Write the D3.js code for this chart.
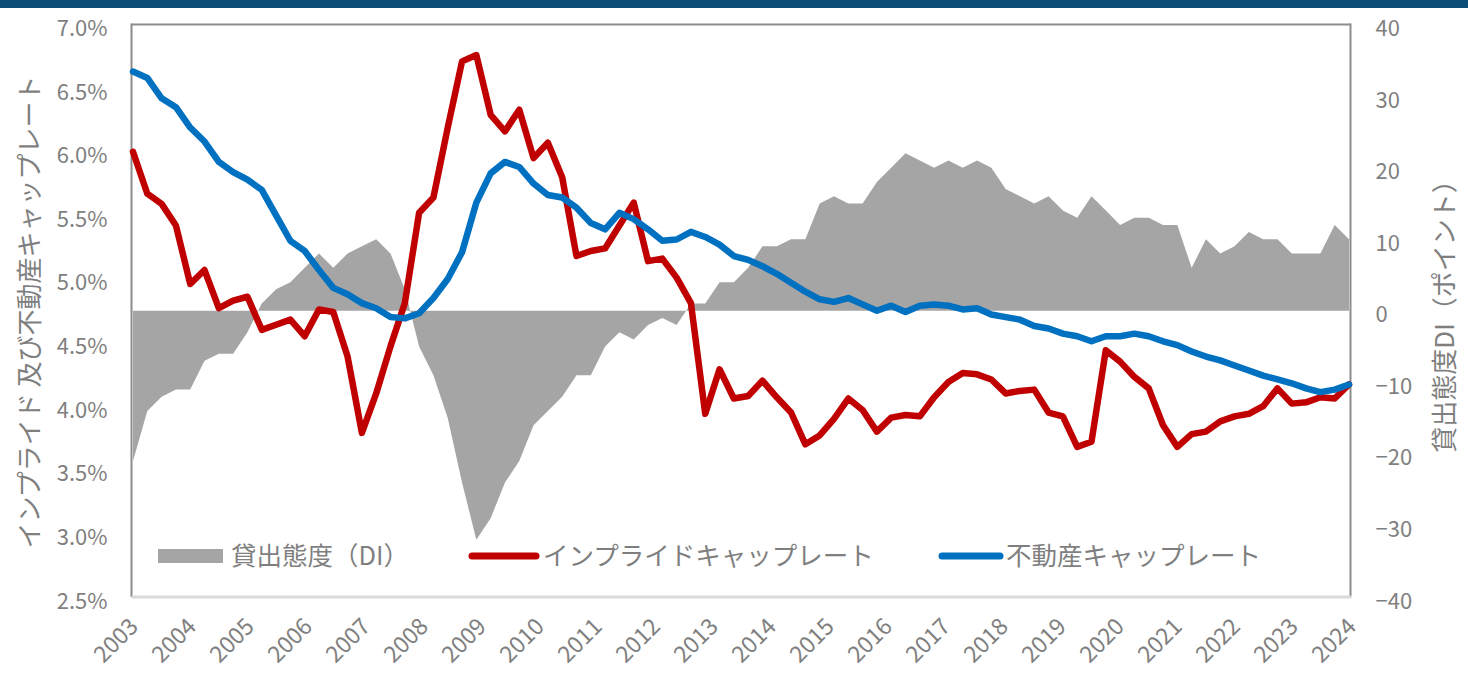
<!doctype html>
<html>
<head>
  <meta charset="utf-8">
  <title>キャップレートと貸出態度DI</title>
  <script src="https://cdnjs.cloudflare.com/ajax/libs/d3/7.8.5/d3.min.js"></script>
  <style>
    html, body { margin: 0; padding: 0; background: #fff; }
    svg { display: block; font-family: "Noto Sans CJK JP", "Noto Sans", sans-serif; }
  </style>
</head>
<body>
  <div id="chart"></div>
  <script>
    // year labels on the x axis
    const years = ['2003','2004','2005','2006','2007','2008','2009','2010','2011','2012','2013',
                   '2014','2015','2016','2017','2018','2019','2020','2021','2022','2023','2024'];

    // quarterly categories, 2003Q1 .. 2024Q2
    const quarters = [];
    years.forEach(y => [1,2,3,4].forEach(q => quarters.push(y + 'Q' + q)));
    quarters.length = 86;

    // 貸出態度DI (right axis, points)
    const lendingDI = [-21,-14,-12,-11,-11,-7,-6,-6,-3,1,3,4,6,8,6,
                       8,9,10,8,3,-5,-9,-15,-24,-32,-29,-24,-21,-16,-14,
                       -12,-9,-9,-5,-3,-4,-2,-1,-2,1,1,4,4,6,
                       9,9,10,10,15,16,15,15,18,20,22,21,20,21,20,
                       21,20,17,16,15,16,14,13,16,14,12,13,13,12,
                       12,6,10,8,9,11,10,10,8,8,8,12,10];

    // インプライドキャップレート (left axis, %)
    const impliedCap = [6.00,5.67,5.59,5.42,4.96,5.07,4.77,4.83,4.86,4.60,4.64,4.68,4.55,4.76,4.74,
                        4.39,3.79,4.10,4.47,4.81,5.52,5.64,6.19,6.71,6.76,6.29,6.16,6.33,5.95,6.07,
                        5.80,5.18,5.22,5.24,5.42,5.60,5.14,5.16,5.01,4.81,3.94,4.29,4.06,4.08,
                        4.20,4.07,3.95,3.70,3.77,3.90,4.06,3.97,3.80,3.91,3.93,3.92,4.07,4.19,4.26,
                        4.25,4.21,4.10,4.12,4.13,3.95,3.92,3.68,3.72,4.44,4.35,4.23,4.14,3.85,
                        3.68,3.78,3.80,3.88,3.92,3.94,4.00,4.14,4.02,4.03,4.07,4.06,4.17];

    // 不動産キャップレート (left axis, %)
    const realCap = [6.63,6.58,6.42,6.35,6.19,6.08,5.92,5.84,5.78,5.70,5.50,5.30,5.22,5.07,4.93,
                     4.88,4.81,4.77,4.70,4.69,4.73,4.85,5.00,5.21,5.60,5.83,5.92,5.88,5.75,5.66,
                     5.64,5.56,5.44,5.39,5.52,5.47,5.39,5.30,5.31,5.37,5.33,5.27,5.18,5.15,
                     5.10,5.04,4.97,4.90,4.84,4.82,4.85,4.80,4.75,4.79,4.74,4.79,4.80,4.79,4.76,
                     4.77,4.72,4.70,4.68,4.63,4.61,4.57,4.55,4.51,4.55,4.55,4.57,4.55,4.51,
                     4.48,4.43,4.39,4.36,4.32,4.28,4.24,4.21,4.18,4.14,4.11,4.13,4.17];

    const leftTicks = [2.5,3.0,3.5,4.0,4.5,5.0,5.5,6.0,6.5,7.0];
    const rightTicks = [-40,-30,-20,-10,0,10,20,30,40];

    const W = 1468, H = 673;
    const plot = {left: 131.5, right: 1350.5, top: 24.5, bottom: 597};
    const grey = '#7f7f7f';

    const svg = d3.select('#chart')
      .append('svg')
      .attr('width', W)
      .attr('height', H);

    svg.append('rect').attr('width', W).attr('height', H).attr('fill', '#fff');
    // dark band across the top
    svg.append('rect').attr('x', 0).attr('y', 0).attr('width', W).attr('height', 8).attr('fill', '#0b4d77');

    const x = d3.scaleLinear().domain([0, quarters.length - 1]).range([133, 1349]);
    const xYear = d3.scalePoint().domain(years).range([132, 1350]);
    const yLeft = d3.scaleLinear().domain([2.5, 7.0]).range([plot.bottom, plot.top]);
    const yRight = d3.scaleLinear().domain([-40, 40]).range([plot.bottom, plot.top]);

    // DI area
    const area = d3.area()
      .x((d, i) => x(i))
      .y0(yRight(0))
      .y1(d => yRight(d));

    svg.append('path')
      .datum(lendingDI)
      .attr('d', area)
      .attr('fill', '#a5a5a5');

    // frame
    svg.append('line').attr('x1', plot.left).attr('x2', plot.right).attr('y1', plot.top).attr('y2', plot.top)
      .attr('stroke', '#8c8c8c').attr('stroke-width', 2);
    svg.append('line').attr('x1', plot.left).attr('x2', plot.left).attr('y1', plot.top - 1).attr('y2', plot.bottom)
      .attr('stroke', '#8c8c8c').attr('stroke-width', 2);
    svg.append('line').attr('x1', plot.right).attr('x2', plot.right).attr('y1', plot.top - 1).attr('y2', plot.bottom)
      .attr('stroke', '#8c8c8c').attr('stroke-width', 2);
    svg.append('line').attr('x1', plot.left).attr('x2', plot.right + 1).attr('y1', plot.bottom).attr('y2', plot.bottom)
      .attr('stroke', '#d9d9d9').attr('stroke-width', 3);

    // lines
    const line = yScale => d3.line()
      .x((d, i) => x(i))
      .y(d => yScale(d));

    svg.append('path')
      .datum(impliedCap)
      .attr('d', line(yLeft))
      .attr('fill', 'none')
      .attr('stroke', '#c00000')
      .attr('stroke-width', 6.5)
      .attr('stroke-linejoin', 'round')
      .attr('stroke-linecap', 'round');

    svg.append('path')
      .datum(realCap)
      .attr('d', line(yLeft))
      .attr('fill', 'none')
      .attr('stroke', '#0070c0')
      .attr('stroke-width', 6.5)
      .attr('stroke-linejoin', 'round')
      .attr('stroke-linecap', 'round');

    // axes
    const leftAxis = svg.append('g')
      .attr('transform', `translate(${plot.left},0)`)
      .call(d3.axisLeft(yLeft).tickValues(leftTicks).tickFormat(d => d.toFixed(1) + '%').tickSize(0).tickPadding(24));

    const rightAxis = svg.append('g')
      .attr('transform', `translate(${plot.right},0)`)
      .call(d3.axisRight(yRight).tickValues(rightTicks).tickSize(0).tickPadding(25));

    const bottomAxis = svg.append('g')
      .attr('transform', `translate(0,${plot.bottom})`)
      .call(d3.axisBottom(xYear).tickSize(0));

    [leftAxis, rightAxis, bottomAxis].forEach(a => {
      a.select('.domain').remove();
      a.selectAll('text')
        .attr('fill', grey)
        .style('font-size', '22px')
        .style('font-family', '"Noto Sans CJK JP", sans-serif');
    });
    leftAxis.selectAll('text').attr('dy', '0.5em');
    rightAxis.selectAll('text').attr('dy', '0.5em');

    bottomAxis.selectAll('text')
      .attr('x', 0)
      .attr('y', 0)
      .attr('dy', 0)
      .attr('text-anchor', 'end')
      .style('font-size', '23px')
      .attr('transform', 'translate(7,31) rotate(-45)');

    // axis titles
    svg.append('text')
      .attr('transform', 'translate(30,312) rotate(-90)')
      .attr('text-anchor', 'middle')
      .attr('dy', '0.35em')
      .attr('fill', grey)
      .style('font-size', '26px')
      .text('インプライド 及び不動産キャップレート');

    svg.append('text')
      .attr('transform', 'translate(1445,310) rotate(-90)')
      .attr('text-anchor', 'middle')
      .attr('dy', '0.35em')
      .attr('fill', grey)
      .style('font-size', '26px')
      .text('貸出態度DI（ポイント）');

    // legend
    const legendY = 556;
    const legend = svg.append('g').style('font-size', '25.5px').attr('fill', grey);

    legend.append('rect').attr('x', 158).attr('y', legendY - 7).attr('width', 65).attr('height', 14).attr('fill', '#a5a5a5');
    legend.append('text').attr('x', 231).attr('y', legendY).attr('dy', '0.36em').text('貸出態度（DI）');

    legend.append('line').attr('x1', 472).attr('x2', 536).attr('y1', legendY).attr('y2', legendY)
      .attr('stroke', '#c00000').attr('stroke-width', 7).attr('stroke-linecap', 'round');
    legend.append('text').attr('x', 543).attr('y', legendY).attr('dy', '0.36em').text('インプライドキャップレート');

    legend.append('line').attr('x1', 942).attr('x2', 1000).attr('y1', legendY).attr('y2', legendY)
      .attr('stroke', '#0070c0').attr('stroke-width', 7).attr('stroke-linecap', 'round');
    legend.append('text').attr('x', 1006).attr('y', legendY).attr('dy', '0.36em').text('不動産キャップレート');
  </script>
</body>
</html>
